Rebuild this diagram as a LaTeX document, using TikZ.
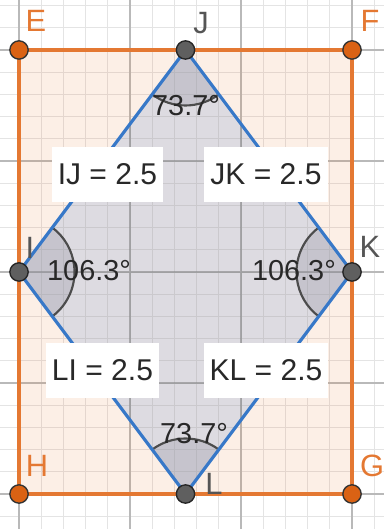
\documentclass[tikz,border=0pt]{standalone}
\usepackage{fontspec}
\setmainfont{Liberation Sans}
\definecolor{gridminor}{RGB}{228,228,228}
\definecolor{gridmajor}{RGB}{185,185,185}
\definecolor{rectorange}{RGB}{228,120,50}
\definecolor{ptorange}{RGB}{218,98,20}
\definecolor{rhblue}{RGB}{55,120,200}
\definecolor{rhfill}{RGB}{215,215,225}
\definecolor{rhgray}{RGB}{150,150,162}
\definecolor{ptgray}{RGB}{95,95,95}
\definecolor{txtdark}{RGB}{40,40,40}
\definecolor{lblgray}{RGB}{85,85,85}
\tikzset{
  ptO/.style={circle, fill=ptorange, draw=black!80, line width=0.35pt, minimum size=0.165cm, inner sep=0pt},
  ptG/.style={circle, fill=ptgray, draw=black!85, line width=0.35pt, minimum size=0.165cm, inner sep=0pt},
  lblO/.style={text=rectorange, font=\fontsize{7.9}{8}\selectfont, inner sep=0pt},
  lblG/.style={text=lblgray, font=\fontsize{7.9}{8}\selectfont, inner sep=0pt},
  lenbox/.style={fill=white, text=txtdark, font=\fontsize{7.7}{8}\selectfont, inner xsep=0.055cm, minimum height=0.495cm, inner ysep=0pt},
  anglbl/.style={text=txtdark, font=\fontsize{7.4}{8}\selectfont, inner sep=0pt},
  sector/.style={fill=rhgray, fill opacity=0.32},
  sectorarc/.style={draw=black!70, line width=0.55pt},
}
\begin{document}
\begin{tikzpicture}
\useasboundingbox (-0.1712,-0.3153) rectangle (3.2883,4.4505);
\clip (-0.1712,-0.3153) rectangle (3.2883,4.4505);
% grid
\draw[gridminor, line width=0.25pt] (-0.4,-0.4) grid[step=0.2] (3.6,4.6);
\draw[gridmajor, line width=0.3pt] (-1,-1) grid[step=1] (4,5);
% vertices
\coordinate (pH) at (0,0);
\coordinate (pG) at (3,0);
\coordinate (pF) at (3,4);
\coordinate (pE) at (0,4);
\coordinate (pJ) at (1.5,4);
\coordinate (pL) at (1.5,0);
\coordinate (pI) at (0,2);
\coordinate (pK) at (3,2);
% fills
\fill[rectorange, opacity=0.12] (pE) -- (pF) -- (pG) -- (pH) -- cycle;
\fill[rhfill, opacity=0.82] (pI) -- (pJ) -- (pK) -- (pL) -- cycle;
\begin{scope}
\clip (pI) -- (pJ) -- (pK) -- (pL) -- cycle;
\draw[black!30, opacity=0.35, line width=0.25pt] (-0.4,-0.4) grid[step=0.2] (3.6,4.6);
\draw[black!55, opacity=0.45, line width=0.3pt] (-1,-1) grid[step=1] (4,5);
\end{scope}
% angle sectors
\fill[sector] (pJ) -- ++(233.13:0.5) arc[start angle=233.13, end angle=306.87, radius=0.5] -- cycle;
\fill[sector] (pL) -- ++(53.13:0.5) arc[start angle=53.13, end angle=126.87, radius=0.5] -- cycle;
\fill[sector] (pI) -- ++(-53.13:0.5) arc[start angle=-53.13, end angle=53.13, radius=0.5] -- cycle;
\fill[sector] (pK) -- ++(126.87:0.5) arc[start angle=126.87, end angle=233.13, radius=0.5] -- cycle;
\draw[sectorarc] (pJ) ++(233.13:0.5) arc[start angle=233.13, end angle=306.87, radius=0.5];
\draw[sectorarc] (pL) ++(53.13:0.5) arc[start angle=53.13, end angle=126.87, radius=0.5];
\draw[sectorarc] (pI) ++(-53.13:0.5) arc[start angle=-53.13, end angle=53.13, radius=0.5];
\draw[sectorarc] (pK) ++(126.87:0.5) arc[start angle=126.87, end angle=233.13, radius=0.5];
% outlines
\draw[rectorange, line width=0.8pt] (pE) -- (pF) -- (pG) -- (pH) -- cycle;
\draw[rhblue, line width=0.8pt, line join=round] (pI) -- (pJ) -- (pK) -- (pL) -- cycle;
% length boxes
\node[lenbox, minimum width=1.0cm] (bIJ) at (0.797,2.878) {IJ = 2.5};
\node[lenbox, minimum width=1.08cm] (bJK) at (2.225,2.878) {JK = 2.5};
\node[lenbox, minimum width=1.0cm] (bLI) at (0.752,1.113) {LI = 2.5};
\node[lenbox, minimum width=1.1cm] (bKL) at (2.225,1.113) {KL = 2.5};
% angle labels
\node[anglbl] (aJ) at (1.505,3.495) {73.7°};
\node[anglbl] (aI) at (0.631,2.009) {106.3°};
\node[anglbl] (aK) at (2.477,2.009) {106.3°};
\node[anglbl] (aL) at (1.577,0.541) {73.7°};
% points
\node[ptO] (E) at (pE) {};
\node[ptO] (F) at (pF) {};
\node[ptO] (G) at (pG) {};
\node[ptO] (H) at (pH) {};
\node[ptG] (J) at (pJ) {};
\node[ptG] (L) at (pL) {};
\node[ptG] (I) at (pI) {};
\node[ptG] (K) at (pK) {};
% point labels
\node[lblO] (tE) at (0.153,4.261) {E};
\node[lblO] (tF) at (3.162,4.261) {F};
\node[lblO] (tH) at (0.162,0.252) {H};
\node[lblO] (tG) at (3.180,0.252) {G};
\node[lblG] (tJ) at (1.640,4.243) {J};
\node[lblG] (tL) at (1.757,0.090) {L};
\node[lblG] (tI) at (0.099,2.216) {I};
\node[lblG] (tK) at (3.162,2.225) {K};
\end{tikzpicture}
\end{document}
